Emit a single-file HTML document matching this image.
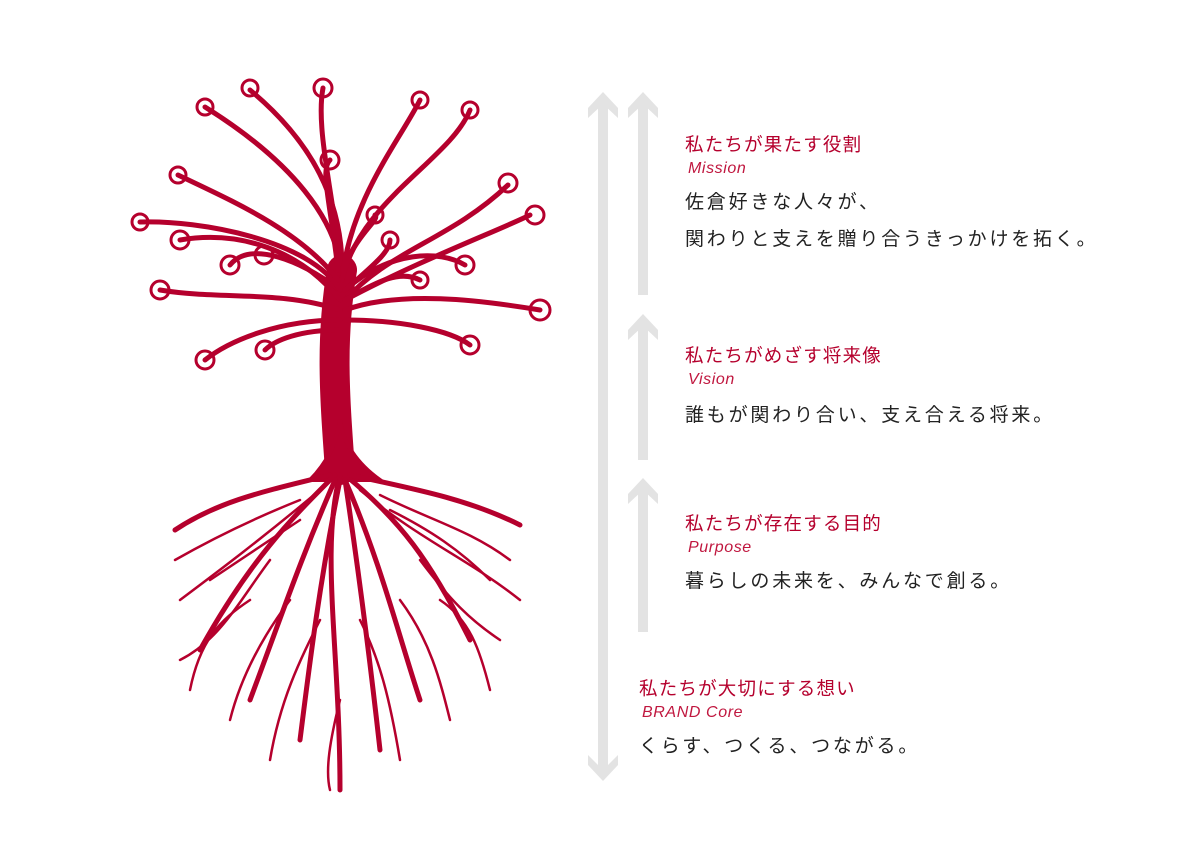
<!DOCTYPE html>
<html><head><meta charset="utf-8"><style>
body{margin:0;width:1200px;height:847px;background:#fff;position:relative;overflow:hidden;font-family:"Liberation Sans","Noto Sans CJK JP",sans-serif}
.t{position:absolute;color:#b5002d;font-size:18.5px;letter-spacing:1.2px;line-height:20px;white-space:nowrap}
.e{position:absolute;color:#c0173f;font-size:16px;font-style:italic;line-height:18px;white-space:nowrap;letter-spacing:0.6px}
.b{position:absolute;color:#222;font-size:19px;line-height:24px;letter-spacing:2.8px;white-space:nowrap}
</style></head><body>
<svg width="1200" height="847" style="position:absolute;left:0;top:0">
<g fill="#e3e3e3">
<rect x="598" y="100" width="10" height="670"/>
<polygon points="588,108 603,92 618,108 618,118 603,104 588,118"/>
<polygon points="588,755 603,770 618,755 618,765 603,781 588,765"/>
<rect x="638" y="100" width="10" height="195"/>
<polygon points="628,108 643,92 658,108 658,118 643,104 628,118"/>
<rect x="638" y="322" width="10" height="138"/>
<polygon points="628,330 643,314 658,330 658,340 643,326 628,340"/>
<rect x="638" y="486" width="10" height="146"/>
<polygon points="628,494 643,478 658,494 658,504 643,490 628,504"/>
</g>
<g fill="none" stroke="#b5002d" stroke-linecap="round">
<path d="M340 470 C335 400 330 340 342 270" stroke-width="30"/>
<path d="M310 480 Q335 455 340 420 Q345 455 380 480 Z" fill="#b5002d" stroke-width="4"/>
<g stroke-width="5">
<path d="M340 300 C300 250 240 230 180 240"/>
<path d="M340 310 C280 290 220 300 160 290"/>
<path d="M340 320 C280 320 230 340 205 360"/>
<path d="M340 330 C300 330 275 340 265 350"/>
<path d="M345 300 C390 250 450 240 508 185"/>
<path d="M345 310 C400 290 480 300 540 310"/>
<path d="M345 320 C400 320 450 330 470 345"/>
<path d="M345 300 C380 280 400 270 420 280"/>
<path d="M342 280 C345 200 310 140 250 90"/>
<path d="M342 280 C340 220 290 160 205 107"/>
<path d="M342 280 C335 200 315 130 323 88"/>
<path d="M342 280 C350 200 400 140 420 100"/>
<path d="M342 280 C360 200 450 160 470 110"/>
<path d="M342 270 C360 230 380 220 375 215"/>
<path d="M338 270 C330 200 320 170 330 160"/>
<path d="M340 290 C300 260 250 240 230 265"/>
<path d="M340 290 C310 240 200 220 140 222"/>
<path d="M338 280 C300 230 230 200 178 175"/>
<path d="M345 290 C390 250 440 250 465 265"/>
<path d="M345 290 C380 260 390 250 390 240"/>
<path d="M345 300 C420 260 500 230 530 215"/>
</g>
<g stroke-width="3">
<circle cx="178" cy="175" r="8"/><circle cx="140" cy="222" r="8"/><circle cx="205" cy="107" r="8"/>
<circle cx="250" cy="88" r="8"/><circle cx="323" cy="88" r="9"/><circle cx="330" cy="160" r="9"/>
<circle cx="375" cy="215" r="8"/><circle cx="420" cy="100" r="8"/><circle cx="470" cy="110" r="8"/>
<circle cx="508" cy="183" r="9"/><circle cx="535" cy="215" r="9"/><circle cx="540" cy="310" r="10"/>
<circle cx="470" cy="345" r="9"/><circle cx="465" cy="265" r="9"/><circle cx="420" cy="280" r="8"/>
<circle cx="390" cy="240" r="8"/><circle cx="264" cy="255" r="9"/><circle cx="230" cy="265" r="9"/>
<circle cx="160" cy="290" r="9"/><circle cx="205" cy="360" r="9"/><circle cx="265" cy="350" r="9"/>
<circle cx="180" cy="240" r="9"/>
</g>
<g stroke-width="5">
<path d="M340 475 C320 550 340 650 340 790"/>
<path d="M335 475 C290 520 250 560 200 650"/>
<path d="M345 475 C400 520 430 560 470 640"/>
<path d="M330 475 C270 490 220 500 175 530"/>
<path d="M350 475 C420 490 470 500 520 525"/>
<path d="M335 480 C300 560 280 620 250 700"/>
<path d="M345 480 C380 560 400 640 420 700"/>
<path d="M340 480 C320 580 310 660 300 740"/>
<path d="M345 480 C360 580 370 660 380 750"/>
</g>
<g stroke-width="2.5">
<path d="M320 490 C260 540 220 570 180 600"/>
<path d="M360 490 C420 540 470 560 520 600"/>
<path d="M300 500 C250 520 210 540 175 560"/>
<path d="M380 495 C430 520 470 530 510 560"/>
<path d="M270 560 C240 600 220 640 180 660"/>
<path d="M420 560 C450 600 470 620 500 640"/>
<path d="M290 600 C260 640 240 680 230 720"/>
<path d="M400 600 C430 640 440 680 450 720"/>
<path d="M320 620 C300 660 280 700 270 760"/>
<path d="M360 620 C380 660 390 700 400 760"/>
<path d="M300 520 C270 540 240 560 210 580"/>
<path d="M390 510 C430 530 460 550 490 580"/>
<path d="M250 600 C220 620 200 640 190 690"/>
<path d="M440 600 C470 620 480 650 490 690"/>
<path d="M340 700 C330 740 325 770 330 790"/>
</g>
</g>
</svg>
<div class="t" style="left:685px;top:135px">私たちが果たす役割</div>
<div class="e" style="left:688px;top:160px">Mission</div>
<div class="b" style="left:685px;top:191px">佐倉好きな人々が、</div>
<div class="b" style="left:685px;top:228px">関わりと支えを贈り合うきっかけを拓く。</div>
<div class="t" style="left:685px;top:346px">私たちがめざす将来像</div>
<div class="e" style="left:688px;top:371px">Vision</div>
<div class="b" style="left:685px;top:404px">誰もが関わり合い、支え合える将来。</div>
<div class="t" style="left:685px;top:514px">私たちが存在する目的</div>
<div class="e" style="left:688px;top:539px">Purpose</div>
<div class="b" style="left:685px;top:570px">暮らしの未来を、みんなで創る。</div>
<div class="t" style="left:639px;top:679px">私たちが大切にする想い</div>
<div class="e" style="left:642px;top:704px">BRAND Core</div>
<div class="b" style="left:639px;top:735px">くらす、つくる、つながる。</div>
</body></html>
